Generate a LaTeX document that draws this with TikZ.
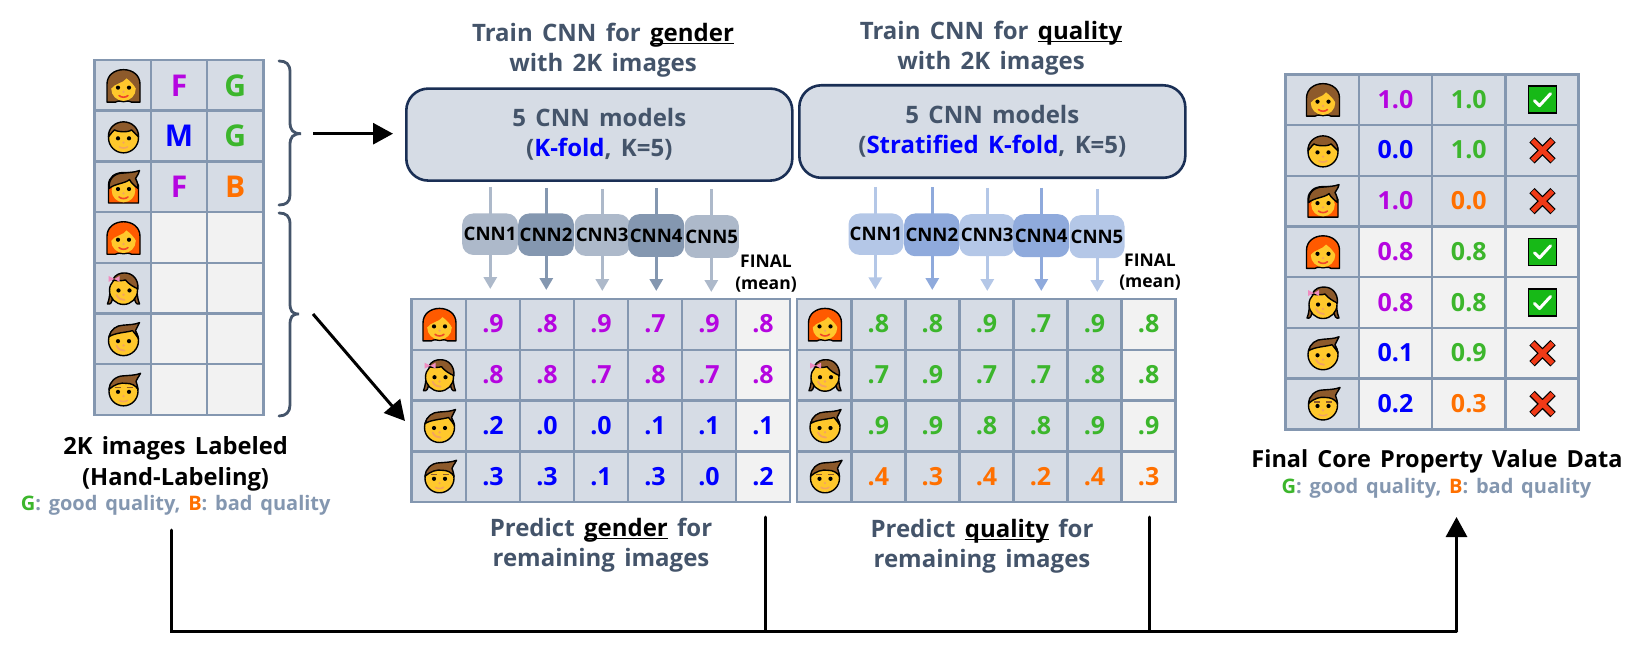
\documentclass[tikz,border=0pt]{standalone}
\usepackage{fontspec}
\setmainfont[WordSpace=1.5]{Open Sans}
\usetikzlibrary{arrows.meta}
\definecolor{gridc}{HTML}{8497B0}
\definecolor{cellA}{HTML}{D6DCE5}
\definecolor{cellB}{HTML}{F2F2F2}
\definecolor{dk}{HTML}{44546A}
\definecolor{navy}{HTML}{1A2F55}
\definecolor{pur}{HTML}{B505E0}
\definecolor{grn}{HTML}{3CB62C}
\definecolor{org}{HTML}{FF7000}
\definecolor{blu}{HTML}{0000FF}
\definecolor{cgA}{HTML}{ADB9CA}
\definecolor{cgB}{HTML}{8497B0}
\definecolor{cbA}{HTML}{B4C7E7}
\definecolor{cbB}{HTML}{8FAADC}
\definecolor{skin}{HTML}{FFC82C}
\definecolor{hairB}{HTML}{8D5A2B}
\definecolor{hairO}{HTML}{FF5A00}
\definecolor{nosec}{HTML}{F4A460}
\definecolor{mouthc}{HTML}{F0452A}
\definecolor{bowc}{HTML}{F08CC0}
\definecolor{okc}{HTML}{17B917}
\definecolor{noc}{HTML}{F03A17}
\newcommand\ulin[1]{\setbox0=\hbox{\textcolor{black}{#1}}\leavevmode\copy0\llap{\textcolor{black}{\rule[-2.6pt]{\wd0}{1pt}}}}
\newcommand\eyes{\fill[black] (-5.5,1.5) circle[radius=2.1] (5.5,1.5) circle[radius=2.1];
  \fill[nosec] (0,5.8) circle[radius=1.3];}
\newcommand\redmouth{\draw[mouthc,line width=1.6pt,line cap=round] (-4.5,9.4) .. controls (-2,11.6) and (2,11.6) .. (4.5,9.4);}
\newcommand\palemouth{\draw[nosec,line width=1.5pt,line cap=round] (-4,10) .. controls (-2,11.6) and (2,11.6) .. (4,10);}
\newcommand\blush{\draw[nosec,line width=1.8pt,line cap=round] (-7,6) .. controls (-5,10) and (-2,11) .. (1,11);}
\tikzset{
  lbl/.style={font=\bfseries\fontsize{24}{30}\selectfont,text=dk,align=center,anchor=center,inner sep=0pt},
  lblblack/.style={lbl,text=black},
  small/.style={font=\bfseries\fontsize{20}{24}\selectfont,text=gridc,inner sep=0pt,anchor=base},
  cell/.style={draw=gridc,line width=2.4pt,inner sep=0pt,text height=17pt,text depth=-2pt,anchor=center},
  valcell/.style={cell,font=\bfseries\fontsize{25}{30}\selectfont},
  bigcell/.style={cell,font=\bfseries\fontsize{30}{30}\selectfont,text height=21.5pt,text depth=-1pt},
  bigbox/.style={draw=navy,fill=cellA,line width=2.6pt,rounded corners=22pt,inner sep=0pt,anchor=north west},
  cnn/.style={rounded corners=11pt,inner sep=0pt,anchor=north west,text=black,
     font=\bfseries\fontsize{18.6}{24}\selectfont},
  flow/.style={line width=3pt,-{Triangle[length=12pt,width=13pt]}},
  bigflow/.style={line width=3pt,black,-{Triangle[length=20pt,width=21pt]}},
  plainline/.style={line width=3pt,black,line cap=round},
  bracec/.style={draw=dk,line width=2.8pt,line cap=round},
  outl/.style={draw=black,line width=1.4pt,line join=round},
  pics/longhair/.style={code={
    \draw[outl,fill=#1] (-16.5,16) -- (-16.5,-2) .. controls (-16.5,-11) and (-9,-16.5) .. (0,-16.5)
      .. controls (9,-16.5) and (16.5,-11) .. (16.5,-2) -- (16.5,16) -- (8,16) .. controls (5,14) and (2,15.5) .. (0,15.5)
      .. controls (-2,15.5) and (-5,14) .. (-8,16) -- cycle;
    \fill[skin] (0,2.5) circle[radius=12.3];
    \fill[#1] (-13,3) .. controls (-13,-10) and (-5,-13) .. (0,-13) .. controls (5,-13) and (13,-10) .. (13,3)
      .. controls (10,-2) and (7,-5) .. (3,-8) .. controls (0,-3) and (-9,-3) .. (-13,3) -- cycle;
    \eyes\redmouth }},
  pics/boyface/.style={code={
    \draw[outl,fill=skin] (0,1) circle[radius=15];
    \draw[outl,fill=hairB] (-15,0) .. controls (-15.5,-9) and (-8,-15) .. (0,-15) .. controls (8,-15) and (15.5,-9) .. (15,0)
      .. controls (12,-3) and (10,-5) .. (8,-7) .. controls (5,-4) and (-7,-5) .. (-9,-7) .. controls (-11,-5) and (-13,-3) .. (-15,0) -- cycle;
    \eyes\palemouth }},
  pics/bangsface/.style={code={
    \draw[outl,fill=hairO] (-15,15.5) -- (-15,-2) .. controls (-15,-11) and (-8,-15) .. (0,-15) -- (8,-15) -- (15,-2) -- (15,15.5) -- cycle;
    \fill[skin] (0,3) circle[radius=11.8];
    \draw[outl,fill=hairB] (-14.5,1) .. controls (-15,-10) and (-8,-14.5) .. (0,-14.5) .. controls (5,-15) and (10,-15) .. (16,-17)
      .. controls (15,-13) and (13,-11) .. (12,-9) .. controls (14,-6) and (14.5,-2) .. (14.5,1)
      .. controls (11,-2) and (8,-4) .. (6,-8) .. controls (2,-4) and (-9,-4) .. (-14.5,1) -- cycle;
    \eyes\redmouth }},
  pics/bowface/.style={code={
    \draw[outl,fill=hairB] (-16,15) .. controls (-13,16) and (-11,13) .. (-11,8) -- (11,8) .. controls (11,13) and (13,16) .. (16,15) .. controls (14,10) and (14,6) .. (13,0) -- (-13,0) .. controls (-14,6) and (-14,10) .. (-16,15) -- cycle;
    \draw[outl,fill=skin] (0,1.5) circle[radius=14];
    \draw[outl,fill=hairB] (-11,-9) .. controls (-8,-15) and (-3,-16) .. (1,-16) .. controls (9,-16) and (15,-10) .. (14.5,0)
      .. controls (10,-2) and (5,-5) .. (2,-9) .. controls (-1,-8) and (-7,-8) .. (-11,-9) -- cycle;
    \fill[bowc] (-15,-13) -- (-9,-10) -- (-15,-7) -- cycle (-4,-13) -- (-9,-10) -- (-4,-7) -- cycle;
    \fill[black] (-5,1.5) circle[radius=2.1] (6,1.5) circle[radius=2.1];
    \fill[nosec] (0,5.8) circle[radius=1.3];
    \blush }},
  pics/tuftface/.style={code={
    \draw[outl,fill=skin] (0,1) circle[radius=15];
    \draw[outl,fill=hairB] (-14.5,-3) .. controls (-13,-10) and (-7,-14.5) .. (0,-14.5) .. controls (6,-15) and (11,-15) .. (16,-17)
      .. controls (14,-13) and (13,-11) .. (12,-9) .. controls (13,-7) and (14.5,-4) .. (15,-1)
      .. controls (13,-4) and (11,-7) .. (9,-9) .. controls (2,-7) and (-8,-7) .. (-14.5,-3) -- cycle;
    \eyes\blush }},
  pics/browface/.style={code={
    \draw[outl,fill=skin] (0,1) circle[radius=14.5];
    \draw[outl,fill=hairB] (-14.5,-1) .. controls (-14.5,-8) and (-8,-14.5) .. (0,-14.5) .. controls (6,-15) and (12,-15) .. (17,-17)
      .. controls (15,-13) and (13,-11) .. (12.5,-9) .. controls (13.5,-6) and (14.5,-3) .. (14.5,-1)
      .. controls (12,-5) and (8,-7) .. (3,-7) .. controls (-3,-8) and (-9,-6) .. (-14.5,-1) -- cycle;
    \draw[hairB,line width=1.2pt] (-9,-2.5) -- (-3,-2.5) (3,-2.5) -- (9,-2.5);
    \eyes\palemouth }},
  pics/okmark/.style={code={
    \draw[line width=1.4pt,draw=black,fill=okc] (-14,-13.5) rectangle (14,13.5);
    \draw[white,line width=3pt,line cap=round,line join=round] (-8,1) -- (-3,6) -- (8,-6);
  }},
  pics/nomark/.style={code={
    \draw[black,line width=7.5pt] (-10.5,-10.5) -- (10.5,10.5) (-10.5,10.5) -- (10.5,-10.5);
    \draw[noc,line width=5pt] (-10,-10) -- (10,10) (-10,10) -- (10,-10);
  }},
}
\newcommand\myface[2]{\ifcase#1\or
  \pic at (#2) {longhair=hairB};\or
  \pic at (#2) {boyface};\or
  \pic at (#2) {bangsface};\or
  \pic at (#2) {longhair=hairO};\or
  \pic at (#2) {bowface};\or
  \pic at (#2) {tuftface};\or
  \pic at (#2) {browface};\fi}
\begin{document}
\begin{tikzpicture}[x=1pt,y=-1pt]
\useasboundingbox (0,0) rectangle (1641,655);
% ---- left table
\foreach \r/\ca/\ta/\cb/\tb/\fl in {1/pur/F/grn/G/cellA,2/blu/M/grn/G/cellA,3/pur/F/org/B/cellA,4/black/{}/black/{}/cellB,5/black/{}/black/{}/cellB,6/black/{}/black/{}/cellB,7/black/{}/black/{}/cellB}{
  \pgfmathsetmacro\yc{60+50.7*(\r-0.5)}
  \node[bigcell,fill=cellA,minimum width=56.5pt,minimum height=50.7pt] (L-\r-0) at (122.7,\yc) {};
  \node[bigcell,fill=\fl,text=\ca,minimum width=56pt,minimum height=50.7pt] (L-\r-1) at (179,\yc) {\ta};
  \node[bigcell,fill=\fl,text=\cb,minimum width=56.5pt,minimum height=50.7pt] (L-\r-2) at (235.2,\yc) {\tb};
  \myface{\r}{123.5,\yc+0.8}
}
% ---- braces
\path[bracec] (279,61) .. controls (286,61) and (290,64) .. (290,72) -- (290,122) .. controls (290,130) and (293,133.7) .. (301,133.7)
   .. controls (293,133.7) and (290,137) .. (290,145) -- (290,195) .. controls (290,202) and (286,205) .. (279,205);
\path[bracec] (279,213) .. controls (286,213) and (290,216) .. (290,224) -- (290,303) .. controls (290,311) and (292,314) .. (299,314)
   .. controls (292,314) and (290,317) .. (290,325) -- (290,405) .. controls (290,412) and (286,416) .. (279,416);
% ---- titles
\node[lbl] (ttl1) at (603,50.5) {Train CNN for \ulin{gender}\\with 2K images};
\node[lbl] (ttl2) at (991,48) {Train CNN for \ulin{quality}\\with 2K images};
% ---- boxes
\node[bigbox,minimum width=386pt,minimum height=92pt,align=center,lbl,anchor=north west] (box1) at (405,87.3) {5 CNN models\\(\textcolor{blu}{K-fold}, K=5)};
\node[bigbox,minimum width=386pt,minimum height=92.5pt,align=center,lbl,anchor=north west] (box2) at (798,84) {5 CNN models\\(\textcolor{blu}{Stratified K-fold}, K=5)};
% ---- connector end points
\foreach \n/\x/\ya/\yb in {1/490.3/187/289,2/546.3/188/290,3/602.3/189/291,4/656.3/188.5/291,5/711.3/189.5/292,
  6/875.3/187/289.3,7/932.3/187.3/290,8/987.3/188/291,9/1041.3/188/291,10/1097.3/189/292}{
  \coordinate (as\n) at (\x,\ya);
  \coordinate (ae\n) at (\x,\yb);
}
\draw[flow,cgA] (as1) -- (ae1);
\draw[flow,cgB] (as2) -- (ae2);
\draw[flow,cgA] (as3) -- (ae3);
\draw[flow,cgB] (as4) -- (ae4);
\draw[flow,cgA] (as5) -- (ae5);
\draw[flow,cbA] (as6) -- (ae6);
\draw[flow,cbB] (as7) -- (ae7);
\draw[flow,cbA] (as8) -- (ae8);
\draw[flow,cbB] (as9) -- (ae9);
\draw[flow,cbA] (as10) -- (ae10);
% ---- CNN nodes
\node[cnn,fill=cgA,minimum width=55.7pt,minimum height=41.4pt] (ga1) at (462,213.3) {CNN1};
\node[cnn,fill=cgB,minimum width=55.7pt,minimum height=42.4pt] (ga2) at (518,213.3) {CNN2};
\node[cnn,fill=cgA,minimum width=55.4pt,minimum height=41.7pt] (ga3) at (574.3,214) {CNN3};
\node[cnn,fill=cgB,minimum width=56pt,minimum height=42.7pt] (ga4) at (628,214) {CNN4};
\node[cnn,fill=cgA,minimum width=54.4pt,minimum height=42.7pt] (ga5) at (684.3,215) {CNN5};
\node[cnn,fill=cbA,minimum width=55pt,minimum height=41.4pt] (qa1) at (848.3,213.3) {CNN1};
\node[cnn,fill=cbB,minimum width=55.3pt,minimum height=42.7pt] (qa2) at (904,213.3) {CNN2};
\node[cnn,fill=cbA,minimum width=55.4pt,minimum height=42pt] (qa3) at (959.3,214) {CNN3};
\node[cnn,fill=cbB,minimum width=56pt,minimum height=43pt] (qa4) at (1013,214) {CNN4};
\node[cnn,fill=cbA,minimum width=55pt,minimum height=43pt] (qa5) at (1069.3,215) {CNN5};
% ---- FINAL labels
\node[font=\bfseries\fontsize{17.5}{21.5}\selectfont,align=center,inner sep=0pt,text=black] (fin1) at (766,273.5) {FINAL\\(mean)};
\node[font=\bfseries\fontsize{17.5}{21.5}\selectfont,align=center,inner sep=0pt,text=black] (fin2) at (1150,272) {FINAL\\(mean)};
% ---- prediction tables
\foreach \r/\f/\clr/\a/\b/\c/\d/\e/\g in {1/4/pur/.9/.8/.9/.7/.9/.8,2/5/pur/.8/.8/.7/.8/.7/.8,3/6/blu/.2/.0/.0/.1/.1/.1,4/7/blu/.3/.3/.1/.3/.0/.2}{
  \pgfmathsetmacro\yc{299+50.8*(\r-0.5)}
  \node[valcell,fill=cellA,minimum width=54.3pt,minimum height=50.8pt] (A-\r-0) at (438.8,\yc) {};
  \myface{\f}{439.5,\yc+0.5}
  \foreach \i/\v in {1/\a,2/\b,3/\c,4/\d,5/\e}{
    \node[valcell,fill=cellA,text=\clr,minimum width=54pt,minimum height=50.8pt] (A-\r-\i) at (466+54*\i-27,\yc) {\v};
  }
  \node[valcell,fill=cellB,text=\clr,minimum width=54pt,minimum height=50.8pt] (A-\r-6) at (763,\yc) {\g};
}
\foreach \r/\f/\clr/\a/\b/\c/\d/\e/\g in {1/4/grn/.8/.8/.9/.7/.9/.8,2/5/grn/.7/.9/.7/.7/.8/.8,3/6/grn/.9/.9/.8/.8/.9/.9,4/7/org/.4/.3/.4/.2/.4/.3}{
  \pgfmathsetmacro\yc{299+50.8*(\r-0.5)}
  \node[valcell,fill=cellA,minimum width=54.6pt,minimum height=50.8pt] (B-\r-0) at (824,\yc) {};
  \myface{\f}{825,\yc+0.5}
  \foreach \i/\v in {1/\a,2/\b,3/\c,4/\d,5/\e}{
    \node[valcell,fill=cellA,text=\clr,minimum width=54pt,minimum height=50.8pt] (B-\r-\i) at (851.3+54.05*\i-27,\yc) {\v};
  }
  \node[valcell,fill=cellB,text=\clr,minimum width=54pt,minimum height=50.8pt] (B-\r-6) at (1148.6,\yc) {\g};
}
% ---- right table
\foreach \r/\ca/\ta/\cb/\tb/\fl/\mk in {1/pur/1.0/grn/1.0/cellA/1,2/blu/0.0/grn/1.0/cellA/0,3/pur/1.0/org/0.0/cellA/0,4/pur/0.8/grn/0.8/cellB/1,5/pur/0.8/grn/0.8/cellB/1,6/blu/0.1/grn/0.9/cellB/0,7/blu/0.2/org/0.3/cellB/0}{
  \pgfmathsetmacro\yc{74.3+50.72*(\r-0.5)}
  \node[valcell,fill=cellA,minimum width=73.3pt,minimum height=50.7pt] (R-\r-0) at (1322.3,\yc) {};
  \myface{\r}{1323,\yc+0.5}
  \node[valcell,fill=\fl,text=\ca,minimum width=73pt,minimum height=50.7pt] (R-\r-1) at (1395.5,\yc) {\ta};
  \node[valcell,fill=\fl,text=\cb,minimum width=73.7pt,minimum height=50.7pt] (R-\r-2) at (1468.8,\yc) {\tb};
  \node[valcell,fill=\fl,minimum width=72.6pt,minimum height=50.7pt] (R-\r-3) at (1542,\yc) {};
  \ifnum\mk=1 \pic at (1542.5,\yc) {okmark}; \else \pic at (1542.5,\yc) {nomark}; \fi
}
% ---- captions
\node[lblblack,font=\bfseries\fontsize{23.7}{30.5}\selectfont] (cap1) at (175.6,464) {2K images Labeled\\(Hand-Labeling)};
\node[small] (cap1b) at (175.7,510.7) {\textcolor{grn}{G}: good quality, \textcolor{org}{B}: bad quality};
\node[lbl] (cap2) at (601,545) {Predict \ulin{gender} for\\remaining images};
\node[lbl] (cap3) at (982,546) {Predict \ulin{quality} for\\remaining images};
\node[lblblack,font=\bfseries\fontsize{23.5}{30}\selectfont] (cap4) at (1437,461) {Final Core Property Value Data};
\node[small] (cap4b) at (1436.5,493) {\textcolor{grn}{G}: good quality, \textcolor{org}{B}: bad quality};
% ---- black flow lines
\coordinate (b1s) at (313,133.7);
\coordinate (b1e) at (393,133.7);
\coordinate (b2s) at (313,314);
\coordinate (b2e) at (405,421);
\draw[bigflow] (b1s) -- (b1e);
\draw[bigflow] (b2s) -- (b2e);
\coordinate (s1) at (171.3,530);
\coordinate (c1) at (171.3,631);
\coordinate (s2) at (765.3,517);
\coordinate (c2) at (765.3,631);
\coordinate (s3) at (1149.5,517);
\coordinate (c3) at (1149.5,631);
\coordinate (c4) at (1456.5,631);
\coordinate (e4) at (1456.5,517);
\draw[plainline] (s1) -- (c1) -- (c4);
\draw[plainline] (s2) -- (c2);
\draw[plainline] (s3) -- (c3);
\draw[bigflow] (c4) -- (e4);
\end{tikzpicture}
\end{document}
